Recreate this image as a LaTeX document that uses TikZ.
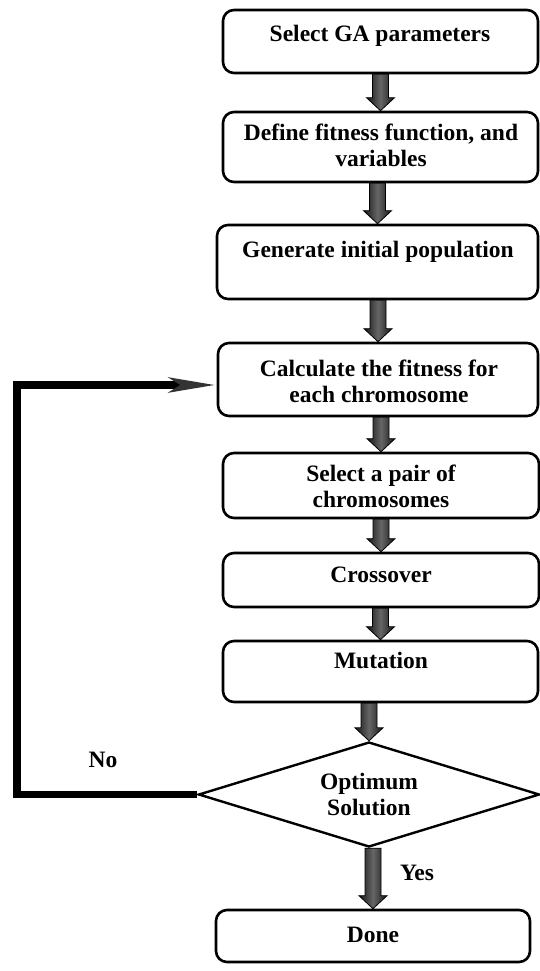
\documentclass[tikz,border=0pt]{standalone}
\usepackage{fontspec}
\setmainfont{Liberation Serif}
\usetikzlibrary{shapes.geometric,arrows.meta,calc}
\tikzset{
  box/.style={draw, line width=2.6pt, rounded corners=11pt, inner sep=0pt},
  txt/.style={font=\fontsize{23.5}{26}\selectfont\bfseries, align=center, inner sep=0pt},
  blockar/.style={draw=black, line width=0.8pt, left color=black!92, right color=black!92, middle color=black!60},
  loopline/.style={line width=7.5pt, -{Stealth[length=46pt,width=14pt,inset=10pt,color=black!80]}},
}
\newcommand{\blockarrow}[2]{%
  \path (#2) coordinate (be) (#1 -| be) coordinate (bs);
  \shadedraw[blockar] ($(bs)+(-8,0)$) -- ($(be)+(-8,-13)$) -- ($(be)+(-14,-13)$) -- (be)
    -- ($(be)+(14,-13)$) -- ($(be)+(8,-13)$) -- ($(bs)+(8,0)$) -- cycle;}
\begin{document}
\begin{tikzpicture}[x=1pt,y=-1pt]
\useasboundingbox (0,0) rectangle (540,971);
% boxes
\node[box, minimum width=315pt, minimum height=63pt] (b1) at (380.5,41.5) {};
\node[box, minimum width=315pt, minimum height=70pt] (b2) at (380.5,147) {};
\node[box, minimum width=321pt, minimum height=74pt] (b3) at (377.5,262) {};
\node[box, minimum width=320pt, minimum height=73pt] (b4) at (378,379.5) {};
\node[box, minimum width=316pt, minimum height=65pt] (b5) at (381,485.5) {};
\node[box, minimum width=316pt, minimum height=54pt] (b6) at (381,580) {};
\node[box, minimum width=315pt, minimum height=61pt] (b7) at (380.5,671.5) {};
\node[draw, line width=2.4pt, shape=diamond, shape aspect=3.25, inner sep=0pt,
      minimum width=341pt, minimum height=105pt, txt] (dia) at (369,794.5) {Optimum\\Solution};
\node[box, minimum width=314pt, minimum height=52pt] (b8) at (373,936) {};
% texts
\node[txt, anchor=base] (t1) at (380,42) {Select GA parameters};
\node[txt] (t2) at (381,145) {Define fitness function, and\\variables};
\node[txt, anchor=base] (t3) at (378,257) {Generate initial population};
\node[txt] (t4) at (379,381) {Calculate the fitness for\\each chromosome};
\node[txt] (t5) at (381,486) {Select a pair of\\chromosomes};
\node[txt, anchor=base] (t6) at (381,582) {Crossover};
\node[txt, anchor=base] (t7) at (381,668) {Mutation};
\node[txt, anchor=base] (t8) at (373,942) {Done};
\node[txt, anchor=base] (no) at (103,767) {No};
\node[txt, anchor=base] (yes) at (417,880) {Yes};
% block arrows
\blockarrow{b1.south}{b2.north}
\blockarrow{b2.south}{b3.north}
\blockarrow{b3.south}{b4.north}
\blockarrow{b4.south}{b5.north}
\blockarrow{b5.south}{b6.north}
\blockarrow{b6.south}{b7.north}
\blockarrow{b7.south}{dia.north}
\blockarrow{dia.south}{b8.north}
% loop
\coordinate (lc) at (17,385);
\draw[loopline] (dia.west) -| (lc) -- (b4.west |- lc);
\end{tikzpicture}
\end{document}
